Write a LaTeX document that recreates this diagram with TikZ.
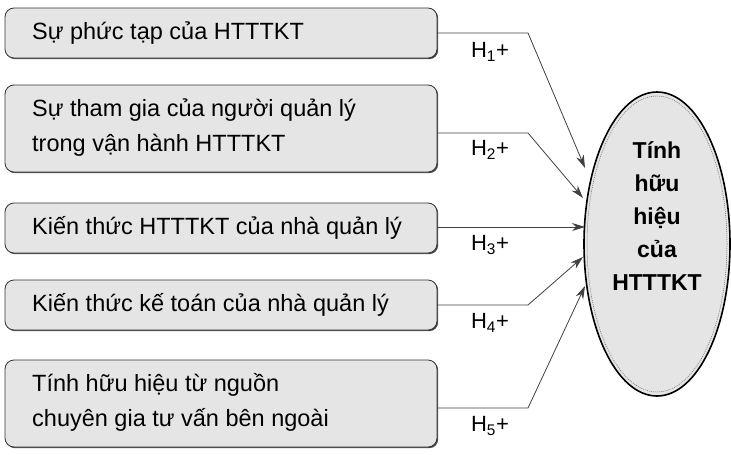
\documentclass[tikz,border=0pt]{standalone}
\usepackage{fontspec}
\setmainfont{Liberation Sans}
\usetikzlibrary{arrows.meta,shadows,shapes.geometric}
\begin{document}
\begin{tikzpicture}[x=1pt,y=-1pt,
  fact/.style={draw=black!80,line width=0.8pt,rounded corners=9pt,fill=black!10,
    drop shadow={shadow xshift=1.2pt,shadow yshift=-1.2pt,fill=black!70,opacity=1}},
  txt/.style={anchor=west,font=\fontsize{23.5}{35}\selectfont,align=left,inner sep=0pt},
  conn/.style={draw=black!75,line width=0.8pt,-{Stealth[length=13pt,width=8pt]}},
  hl/.style={font=\fontsize{22}{24}\selectfont}]
\useasboundingbox (0,0) rectangle (731,455);
\path[fact] (5,8) rectangle (437,58);
\path[fact] (5,85) rectangle (437,172);
\path[fact] (5,203) rectangle (437,253);
\path[fact] (5,280) rectangle (437,330);
\path[fact] (5,360) rectangle (437,447);
\node[txt] (t1) at (32,33) {Sự phức tạp của HTTTKT};
\node[txt] (t2) at (32,128) {Sự tham gia của người quản lý\\trong vận hành HTTTKT};
\node[txt] (t3) at (32,228) {Kiến thức HTTTKT của nhà quản lý};
\node[txt] (t4) at (32,305) {Kiến thức kế toán của nhà quản lý};
\node[txt] (t5) at (32,402) {Tính hữu hiệu từ nguồn\\chuyên gia tư vấn bên ngoài};
\coordinate (b1) at (437,33);
\coordinate (b2) at (437,133);
\coordinate (b3) at (437,227);
\coordinate (b4) at (437,305);
\coordinate (b5) at (437,408);
\node[ellipse,draw=black,line width=1.6pt,fill=black!10,minimum width=146pt,minimum height=304pt,inner sep=0pt] (e) at (657,244) {};
\draw[black!60,line width=0.5pt,dash pattern=on 1pt off 1pt] (657,244) ellipse [x radius=70pt,y radius=148pt];
\node[font=\bfseries\fontsize{23}{33}\selectfont,align=center] (et) at (657,216) {Tính\\hữu\\hiệu\\của\\HTTTKT};
\draw[conn] (b1) -- (528,33) -- (585,168);
\draw[conn] (b2) -- (528,133) -- (583,198);
\draw[conn] (b3) -- (585,227);
\draw[conn] (b4) -- (528,305) -- (583,257);
\draw[conn] (b5) -- (528,408) -- (585,286);
\node[hl] (h1) at (490,52) {H\textsubscript{1}+};
\node[hl] (h2) at (490,150) {H\textsubscript{2}+};
\node[hl] (h3) at (490,245) {H\textsubscript{3}+};
\node[hl] (h4) at (490,323) {H\textsubscript{4}+};
\node[hl] (h5) at (490,426) {H\textsubscript{5}+};
\end{tikzpicture}
\end{document}
